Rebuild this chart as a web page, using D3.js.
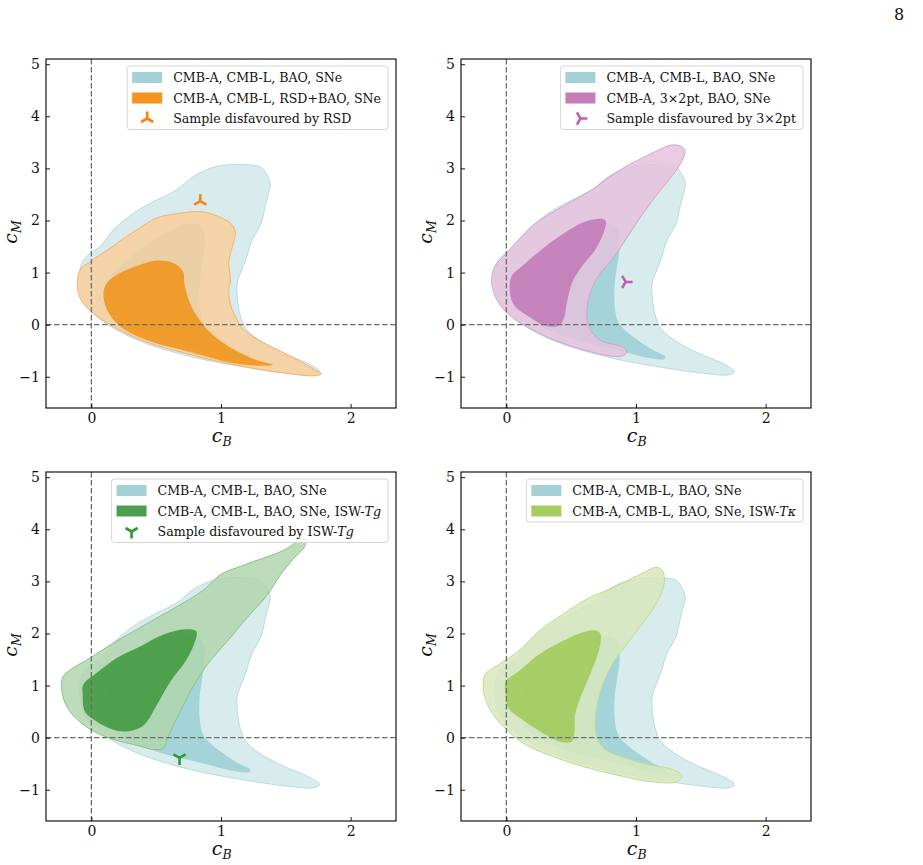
<!DOCTYPE html>
<html><head><meta charset="utf-8">
<script src="https://cdn.jsdelivr.net/npm/d3@7"></script>
<style>
body{margin:0;background:#fff}
</style>
</head><body>
<svg id="c" width="923" height="865" xmlns="http://www.w3.org/2000/svg"></svg>
<script>
// ---------- data ----------
const xTicks = [0, 1, 2];
const yTicks = [-1, 0, 1, 2, 3, 4, 5];
const xDomain = [-0.35, 2.35];
const yDomain = [-1.6, 5.1];

// baseline: CMB-A, CMB-L, BAO, SNe (95% and 68%)
const baseOuter = [[-0.088,0.8],[-0.075,1.18],[-0.01,1.37],[0.067,1.5],[0.17,1.82],[0.325,2.14],[0.454,2.33],[0.66,2.59],[0.79,2.85],[0.97,3.04],[1.18,3.07],[1.31,3.02],[1.36,2.85],[1.38,2.69],[1.36,2.46],[1.34,2.27],[1.31,1.95],[1.23,1.57],[1.2,1.31],[1.16,1.05],[1.125,0.8],[1.125,0.54],[1.15,0.16],[1.2,-0.1],[1.33,-0.35],[1.51,-0.58],[1.69,-0.77],[1.76,-0.9],[1.72,-0.96],[1.51,-0.93],[1.15,-0.8],[0.76,-0.61],[0.377,-0.32],[0.145,-0.03],[0.015,0.22],[-0.06,0.48]];
const baseInner = [[0.106,0.67],[0.145,0.93],[0.248,1.18],[0.4,1.5],[0.557,1.73],[0.738,1.94],[0.828,1.92],[0.867,1.79],[0.872,1.44],[0.854,1.12],[0.836,0.8],[0.836,0.35],[0.867,0.03],[0.97,-0.22],[1.125,-0.48],[1.228,-0.61],[1.22,-0.66],[1.1,-0.64],[0.84,-0.48],[0.53,-0.29],[0.27,-0.03],[0.145,0.22],[0.106,0.48]];

// RSD+BAO
const rsdOuter = [[-0.108,0.735],[-0.088,1.05],[-0.01,1.21],[0.145,1.47],[0.27,1.69],[0.35,1.82],[0.506,2.05],[0.686,2.14],[0.84,2.17],[0.945,2.11],[1.073,1.95],[1.11,1.79],[1.1,1.6],[1.073,1.37],[1.06,1.18],[1.073,0.86],[1.06,0.67],[1.07,0.42],[1.11,0.16],[1.177,-0.1],[1.33,-0.35],[1.54,-0.61],[1.72,-0.86],[1.775,-0.94],[1.73,-0.98],[1.49,-0.93],[1.1,-0.77],[0.71,-0.54],[0.377,-0.29],[0.145,0],[0.015,0.22],[-0.075,0.45]];
const rsdInner = [[0.093,0.61],[0.12,0.8],[0.22,0.99],[0.377,1.15],[0.506,1.23],[0.635,1.18],[0.707,1.02],[0.717,0.8],[0.75,0.48],[0.815,0.16],[0.92,-0.16],[1.1,-0.48],[1.3,-0.7],[1.4,-0.77],[1.33,-0.79],[1.1,-0.74],[0.738,-0.51],[0.454,-0.32],[0.22,-0.03],[0.12,0.29]];
const rsdSample = [0.84, 2.37];

// 3x2pt
const x2ptOuter = [[-0.114,0.86],[-0.088,1.12],[-0.01,1.34],[0.093,1.63],[0.196,1.89],[0.325,2.11],[0.48,2.33],[0.66,2.59],[0.84,2.91],[0.945,3.07],[1.05,3.2],[1.18,3.36],[1.28,3.45],[1.357,3.41],[1.378,3.32],[1.345,3.1],[1.254,2.78],[1.15,2.46],[1.02,2.01],[0.92,1.63],[0.815,1.25],[0.71,0.93],[0.648,0.61],[0.62,0.22],[0.648,-0.1],[0.738,-0.32],[0.867,-0.4],[0.924,-0.48],[0.914,-0.58],[0.84,-0.61],[0.635,-0.51],[0.43,-0.35],[0.25,-0.16],[0.067,0.1],[-0.05,0.38],[-0.1,0.64]];
const x2ptInner = [[0.028,0.61],[0.04,0.93],[0.12,1.12],[0.27,1.44],[0.43,1.73],[0.58,1.95],[0.7,2.03],[0.764,2.0],[0.758,1.82],[0.686,1.44],[0.583,1.12],[0.506,0.8],[0.467,0.42],[0.44,0.1],[0.4,-0.02],[0.3,-0.02],[0.17,0.16],[0.067,0.35]];
const x2ptSample = [0.92, 0.82];

// ISW-Tg
const tgOuter = [[-0.23,1.02],[-0.217,1.18],[-0.14,1.34],[-0.01,1.53],[0.145,1.78],[0.325,2.04],[0.506,2.3],[0.686,2.55],[0.867,2.84],[0.996,3.13],[1.15,3.29],[1.33,3.45],[1.486,3.6],[1.615,3.8],[1.654,3.83],[1.646,3.67],[1.564,3.45],[1.46,3.13],[1.357,2.74],[1.2,2.3],[1.048,1.85],[0.893,1.4],[0.764,0.89],[0.7,0.57],[0.635,0.25],[0.583,-0.04],[0.557,-0.2],[0.49,-0.23],[0.325,-0.13],[0.22,-0.07],[0.067,0.06],[-0.062,0.25],[-0.165,0.5],[-0.217,0.76]];
const tgInner = [[-0.067,0.82],[-0.062,1.02],[0.04,1.24],[0.196,1.53],[0.377,1.75],[0.557,1.98],[0.725,2.08],[0.81,2.04],[0.8,1.85],[0.725,1.46],[0.61,1.08],[0.506,0.63],[0.43,0.31],[0.377,0.19],[0.27,0.12],[0.17,0.15],[0.04,0.31],[-0.05,0.5]];
const tgSample = [0.68, -0.39];

// ISW-Tkappa
const tkOuter = [[-0.178,1.02],[-0.165,1.21],[-0.062,1.4],[0.093,1.66],[0.248,2.04],[0.43,2.36],[0.635,2.68],[0.815,2.87],[0.97,3.06],[1.1,3.22],[1.15,3.27],[1.2,3.22],[1.22,3.03],[1.19,2.74],[1.1,2.36],[0.945,1.85],[0.815,1.4],[0.725,0.89],[0.686,0.38],[0.7,-0.01],[0.764,-0.23],[0.92,-0.39],[1.1,-0.52],[1.28,-0.61],[1.357,-0.74],[1.306,-0.85],[1.1,-0.84],[0.84,-0.71],[0.583,-0.55],[0.325,-0.33],[0.145,-0.13],[0.015,0.12],[-0.1,0.44],[-0.165,0.76]];
const tkInner = [[-0.005,0.82],[-0.005,1.08],[0.093,1.27],[0.248,1.59],[0.43,1.85],[0.61,2.04],[0.7,2.05],[0.728,1.97],[0.712,1.66],[0.635,1.15],[0.57,0.76],[0.53,0.44],[0.525,0.12],[0.506,-0.07],[0.43,-0.09],[0.3,0.06],[0.145,0.31],[0.015,0.57]];

const baseLabel = [["CMB-A, CMB-L, BAO, SNe", false]];
const rsdLabel = [["CMB-A, CMB-L, RSD+BAO, SNe", false]];
const rsdSampleLabel = [["Sample disfavoured by RSD", false]];
const x2ptLabel = [["CMB-A, 3×2pt, BAO, SNe", false]];
const x2ptSampleLabel = [["Sample disfavoured by 3×2pt", false]];
const tgLabel = [["CMB-A, CMB-L, BAO, SNe, ISW-", false], ["Tg", true]];
const tgSampleLabel = [["Sample disfavoured by ISW-", false], ["Tg", true]];
const tkLabel = [["CMB-A, CMB-L, BAO, SNe, ISW-", false], ["Tκ", true]];

// ---------- styles ----------
const FONT = "DejaVu Serif";
const W = 350, H = 349;
const panels = [
  {ox:46, oy:59, outer:rsdOuter, inner:rsdInner, cOut:"#f9cf9b", cIn:"#f0941b", cLeg:"#f7931e", cLine:"#f5b36a",
   label:rsdLabel, sample:rsdSample, sType:"up", sLabel:rsdSampleLabel, sColor:"#f5840c"},
  {ox:461, oy:59, outer:x2ptOuter, inner:x2ptInner, cOut:"#e5c2dd", cIn:"#c279b6", cLeg:"#c77cb9", cLine:"#d7a2cc",
   label:x2ptLabel, sample:x2ptSample, sType:"right", sLabel:x2ptSampleLabel, sColor:"#c160ae"},
  {ox:46, oy:472, outer:tgOuter, inner:tgInner, cOut:"#b1d6ad", cIn:"#41993f", cLeg:"#4c9f4c", cLine:"#8cc289",
   label:tgLabel, sample:tgSample, sType:"down", sLabel:tgSampleLabel, sColor:"#2e9a32"},
  {ox:461, oy:472, outer:tkOuter, inner:tkInner, cOut:"#d8e8bc", cIn:"#a1c95a", cLeg:"#a6cc60", cLine:"#c2dc95",
   label:tkLabel, sample:null}
];
const baseOutC = "#d8ecee", baseInC = "#a4d3d9", baseLineC = "#b6dce1", baseLegC = "#a3d1d6";

const svg = d3.select("#c");
svg.append("text").attr("x", 899).attr("y", 20).attr("text-anchor","middle")
  .attr("font-family", FONT).attr("font-size", 16).attr("fill", "#111").text("8");

function triPath(type, r) {
  const s = 0.866 * r, h = 0.5 * r;
  let arms;
  if (type === "up") arms = [[0,-r],[-s,h],[s,h]];
  else if (type === "down") arms = [[0,r],[-s,-h],[s,-h]];
  else arms = [[r,0],[-h,-s],[-h,s]];
  return arms.map(a => `M0,0L${a[0]},${a[1]}`).join("");
}

function addRich(sel, segs) {
  segs.forEach(([t, it]) => {
    sel.append("tspan").attr("font-style", it ? "italic" : "normal").text(t);
  });
}

panels.forEach((p, i) => {
  const g = svg.append("g").attr("transform", `translate(${p.ox},${p.oy})`);
  const x = d3.scaleLinear().domain(xDomain).range([0, W]);
  const y = d3.scaleLinear().domain(yDomain).range([H, 0]);
  const line = d3.line().x(d => x(d[0])).y(d => y(d[1])).curve(d3.curveCatmullRomClosed.alpha(0.5));

  g.append("clipPath").attr("id", "clip" + i).append("rect").attr("width", W).attr("height", H);
  const plot = g.append("g").attr("clip-path", `url(#clip${i})`);

  plot.append("path").attr("d", line(baseOuter)).attr("fill", baseOutC).attr("stroke", baseLineC).attr("stroke-width", 1);
  plot.append("path").attr("d", line(baseInner)).attr("fill", baseInC).attr("stroke", "none");
  plot.append("path").attr("d", line(p.outer)).attr("fill", p.cOut).attr("fill-opacity", 0.85)
      .attr("stroke", p.cLine).attr("stroke-width", 1);
  plot.append("path").attr("d", line(p.inner)).attr("fill", p.cIn).attr("fill-opacity", 0.88).attr("stroke", "none");

  const dash = "5.5,2.5";
  plot.append("line").attr("x1", x(0)).attr("x2", x(0)).attr("y1", 0).attr("y2", H)
      .attr("stroke", "#6e6e6e").attr("stroke-width", 1.3).attr("stroke-dasharray", dash);
  plot.append("line").attr("x1", 0).attr("x2", W).attr("y1", y(0)).attr("y2", y(0))
      .attr("stroke", "#6e6e6e").attr("stroke-width", 1.3).attr("stroke-dasharray", dash);

  if (p.sample) {
    plot.append("path").attr("transform", `translate(${x(p.sample[0])},${y(p.sample[1])})`)
      .attr("d", triPath(p.sType, 7)).attr("stroke", p.sColor).attr("stroke-width", 2.6).attr("fill", "none");
  }

  const fmt = d => d3.format("d")(d).replace("-", "−");
  const xAxis = d3.axisBottom(x).tickValues(xTicks).tickSizeInner(-4).tickSizeOuter(0).tickPadding(5).tickFormat(fmt);
  const yAxis = d3.axisLeft(y).tickValues(yTicks).tickSizeInner(-4).tickSizeOuter(0).tickPadding(6).tickFormat(fmt);
  const gx = g.append("g").attr("transform", `translate(0,${H})`).call(xAxis);
  const gy = g.append("g").call(yAxis);
  [gx, gy].forEach(a => {
    a.attr("font-family", FONT).attr("font-size", 14);
    a.select(".domain").remove();
    a.selectAll(".tick line").attr("stroke", "#000").attr("stroke-width", 0.9);
    a.selectAll(".tick text").attr("fill", "#111");
  });
  g.append("rect").attr("width", W).attr("height", H).attr("fill", "none").attr("stroke", "#000").attr("stroke-width", 1.1);

  g.append("text").attr("x", W / 2 - 4).attr("y", H + 34).attr("text-anchor", "middle")
    .attr("font-family", FONT).attr("font-size", 19).attr("font-style", "italic").attr("fill", "#111").text("c");
  g.append("text").attr("x", W / 2 + 1.5).attr("y", H + 38).attr("font-family", FONT).attr("font-size", 12.5)
    .attr("font-style", "italic").attr("fill", "#111").text("B");
  const yg = g.append("g").attr("transform", `translate(-29,${H / 2}) rotate(-90)`);
  yg.append("text").attr("x", -5).attr("y", 0).attr("text-anchor", "middle").attr("font-family", FONT)
    .attr("font-size", 19).attr("font-style", "italic").attr("fill", "#111").text("c");
  yg.append("text").attr("x", 0.5).attr("y", 4).attr("font-family", FONT).attr("font-size", 12.5)
    .attr("font-style", "italic").attr("fill", "#111").text("M");

  const rows = [
    {kind: "patch", color: baseLegC, label: baseLabel},
    {kind: "patch", color: p.cLeg, label: p.label}
  ];
  if (p.sample) rows.push({kind: "marker", color: p.sColor, type: p.sType, label: p.sLabel});
  const lg = g.append("g");
  const box = lg.append("rect");
  const texts = [];
  rows.forEach((r, k) => {
    const cy = 11.5 + k * 20.5;
    if (r.kind === "patch") {
      lg.append("rect").attr("x", 5).attr("y", cy - 5.5).attr("width", 30).attr("height", 11).attr("fill", r.color);
    } else {
      lg.append("path").attr("transform", `translate(20,${cy})`).attr("d", triPath(r.type, 7))
        .attr("stroke", r.color).attr("stroke-width", 2.6).attr("fill", "none");
    }
    const t = lg.append("text").attr("x", 46).attr("y", cy + 4.6).attr("font-family", FONT)
      .attr("font-size", 12.6).attr("fill", "#111");
    addRich(t, r.label);
    texts.push(t);
  });
  const tw = d3.max(texts, t => t.node().getComputedTextLength());
  const lw = 46 + tw + 7, lh = rows.length * 20.5 + 2;
  box.attr("width", lw).attr("height", lh).attr("rx", 3).attr("fill", "#fff").attr("fill-opacity", 0.85)
     .attr("stroke", "#d6d6d6").attr("stroke-width", 1);
  lg.attr("transform", `translate(${W - 8 - lw},7)`);
});
</script>
</body></html>
